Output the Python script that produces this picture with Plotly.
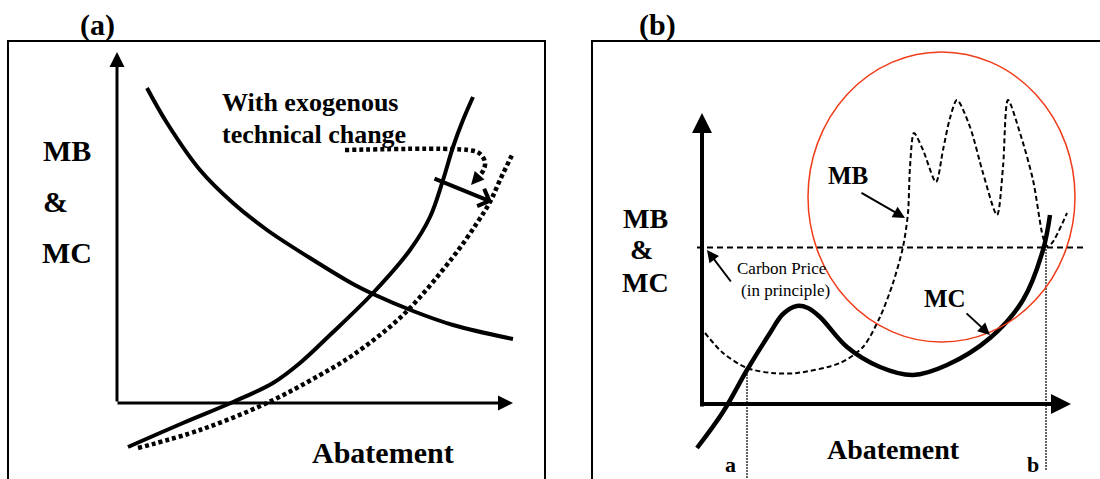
import plotly.graph_objects as go

# ---------------- data (diagram coordinates) ----------------
# Panel (a)
a_mb_x = [147, 167, 200, 233, 267, 310, 353, 373, 413, 453, 513]
a_mb_y = [88, 123, 170, 203, 230, 258, 284, 294, 311, 325, 339]
a_mc_x = [128, 183, 233, 273, 300, 330, 373, 410, 430, 443, 453, 463, 473]
a_mc_y = [447, 423, 402, 383, 363, 335, 293, 250, 217, 180, 147, 120, 97]
a_mc2_x = [138, 200, 267, 320, 353, 403, 453, 477, 490, 500, 513]
a_mc2_y = [448, 430, 403, 375, 355, 315, 257, 223, 202, 180, 153]
a_shift_x = [345, 468, 479, 485, 483, 478]
a_shift_y = [150, 150, 153, 162, 171, 177]

# Panel (b)
b_mc_x = [697, 723, 747, 770, 783, 797, 808, 820, 847, 880, 913, 947, 990, 1023, 1043, 1050]
b_mc_y = [448, 412, 370, 333, 314, 306, 308, 317, 347, 367, 375, 365, 338, 300, 250, 215]
b_mb_x = [705, 723, 747, 772, 797, 840, 863, 880, 893, 903, 908, 910, 914, 923, 936,
          943, 950, 957, 970, 983, 997, 1003, 1008, 1020, 1033, 1043, 1047, 1052, 1067]
b_mb_y = [333, 353, 368, 373, 373, 363, 347, 317, 283, 247, 213, 167, 133, 150, 182,
          150, 118, 100, 127, 173, 215, 167, 100, 133, 180, 237, 246, 243, 213]
carbon_price = 247.5
point_a = 747
point_b = 1046

BLACK = "black"
RED = "rgb(240,60,25)"
SERIF = "Liberation Serif, Times New Roman, serif"

fig = go.Figure()


def line(x, y, width, dash="solid", shape="spline", color=BLACK, smoothing=1.0):
    fig.add_trace(go.Scatter(x=x, y=y, mode="lines",
                             line=dict(color=color, width=width, dash=dash,
                                       shape=shape, smoothing=smoothing),
                             hoverinfo="skip", showlegend=False))


# frames
line([8, 8, 545, 545], [479, 41, 41, 479], 2, shape="linear")
line([592, 592, 1100], [479, 41, 41], 2, shape="linear")

# panel (a) curves
line(a_mb_x, a_mb_y, 4)
line(a_mc_x, a_mc_y, 4)
line(a_mc2_x, a_mc2_y, 4.5, dash="4px,3px")
line(a_shift_x, a_shift_y, 4.5, dash="4px,3px")

# panel (b) curves
line([697, 1083], [carbon_price, carbon_price], 2, dash="6px,4px", shape="linear")
line([point_a, point_a], [368, 479], 1.5, dash="2px,1px", shape="linear", color="#333")
line([point_b, point_b], [240, 470], 1.5, dash="2px,1px", shape="linear", color="#333")
line(b_mb_x, b_mb_y, 2, dash="5px,3px", smoothing=0.8)
line(b_mc_x, b_mc_y, 4.5)

fig.add_shape(type="circle", xref="x", yref="y", x0=808, x1=1075, y0=52, y1=342,
              line=dict(color=RED, width=1.5))

anns = []


def arrow(x0, y0, x1, y1, width, head=2, size=1.0):
    anns.append(dict(x=x1, y=y1, ax=x0, ay=y0, xref="x", yref="y", axref="x", ayref="y",
                     showarrow=True, arrowhead=head, arrowwidth=width, arrowsize=size,
                     arrowcolor=BLACK, text=""))


def text(x, y, s, size, bold=True, xanchor="center"):
    t = "<b>%s</b>" % s if bold else s
    anns.append(dict(x=x, y=y, xref="x", yref="y", text=t, showarrow=False,
                     xanchor=xanchor, yanchor="middle",
                     font=dict(family=SERIF, size=size, color=BLACK)))


# axes arrows
arrow(117, 403, 117, 52, 3, head=2, size=1.0)
arrow(116, 403, 513, 403, 3, head=2, size=1.0)
arrow(702, 408, 702, 113, 4, head=2, size=1.0)
arrow(700, 404, 1071, 404, 4, head=2, size=1.0)

# panel (a) arrows
arrow(433, 178, 492, 202, 4, head=4, size=0.9)
arrow(479, 176, 471, 185, 2, head=2, size=1.3)

# panel (b) arrows
arrow(860, 192, 905, 218, 2, head=2, size=1.2)
arrow(732, 283, 707, 250, 2, head=2, size=1.2)
arrow(965, 312, 990, 335, 2, head=2, size=1.2)

# texts panel (a)
text(97, 25, "(a)", 30)
text(67, 150, "MB", 30)
text(55, 201, "&amp;", 30)
text(67, 252, "MC", 30)
text(220, 102, "With exogenous", 26, xanchor="left")
text(220, 134, "technical change", 26, xanchor="left")
text(383, 452, "Abatement", 30)

# texts panel (b)
text(657, 25, "(b)", 30)
text(645, 218, "MB", 28)
text(641, 249, "&amp;", 28)
text(645, 282, "MC", 28)
text(848, 175, "MB", 25)
text(945, 298, "MC", 25)
text(781, 268, "Carbon Price", 17, bold=False)
text(785, 290, "(in principle)", 17, bold=False)
text(893, 449, "Abatement", 28)
text(730, 464, "a", 22)
text(1033, 464, "b", 22)

fig.update_layout(
    width=1100, height=479,
    margin=dict(l=0, r=0, t=0, b=0),
    paper_bgcolor="white", plot_bgcolor="white",
    xaxis=dict(range=[0, 1100], visible=False, fixedrange=True),
    yaxis=dict(range=[479, 0], visible=False, fixedrange=True),
    annotations=anns,
    showlegend=False,
)

fig.write_html("out.html")
